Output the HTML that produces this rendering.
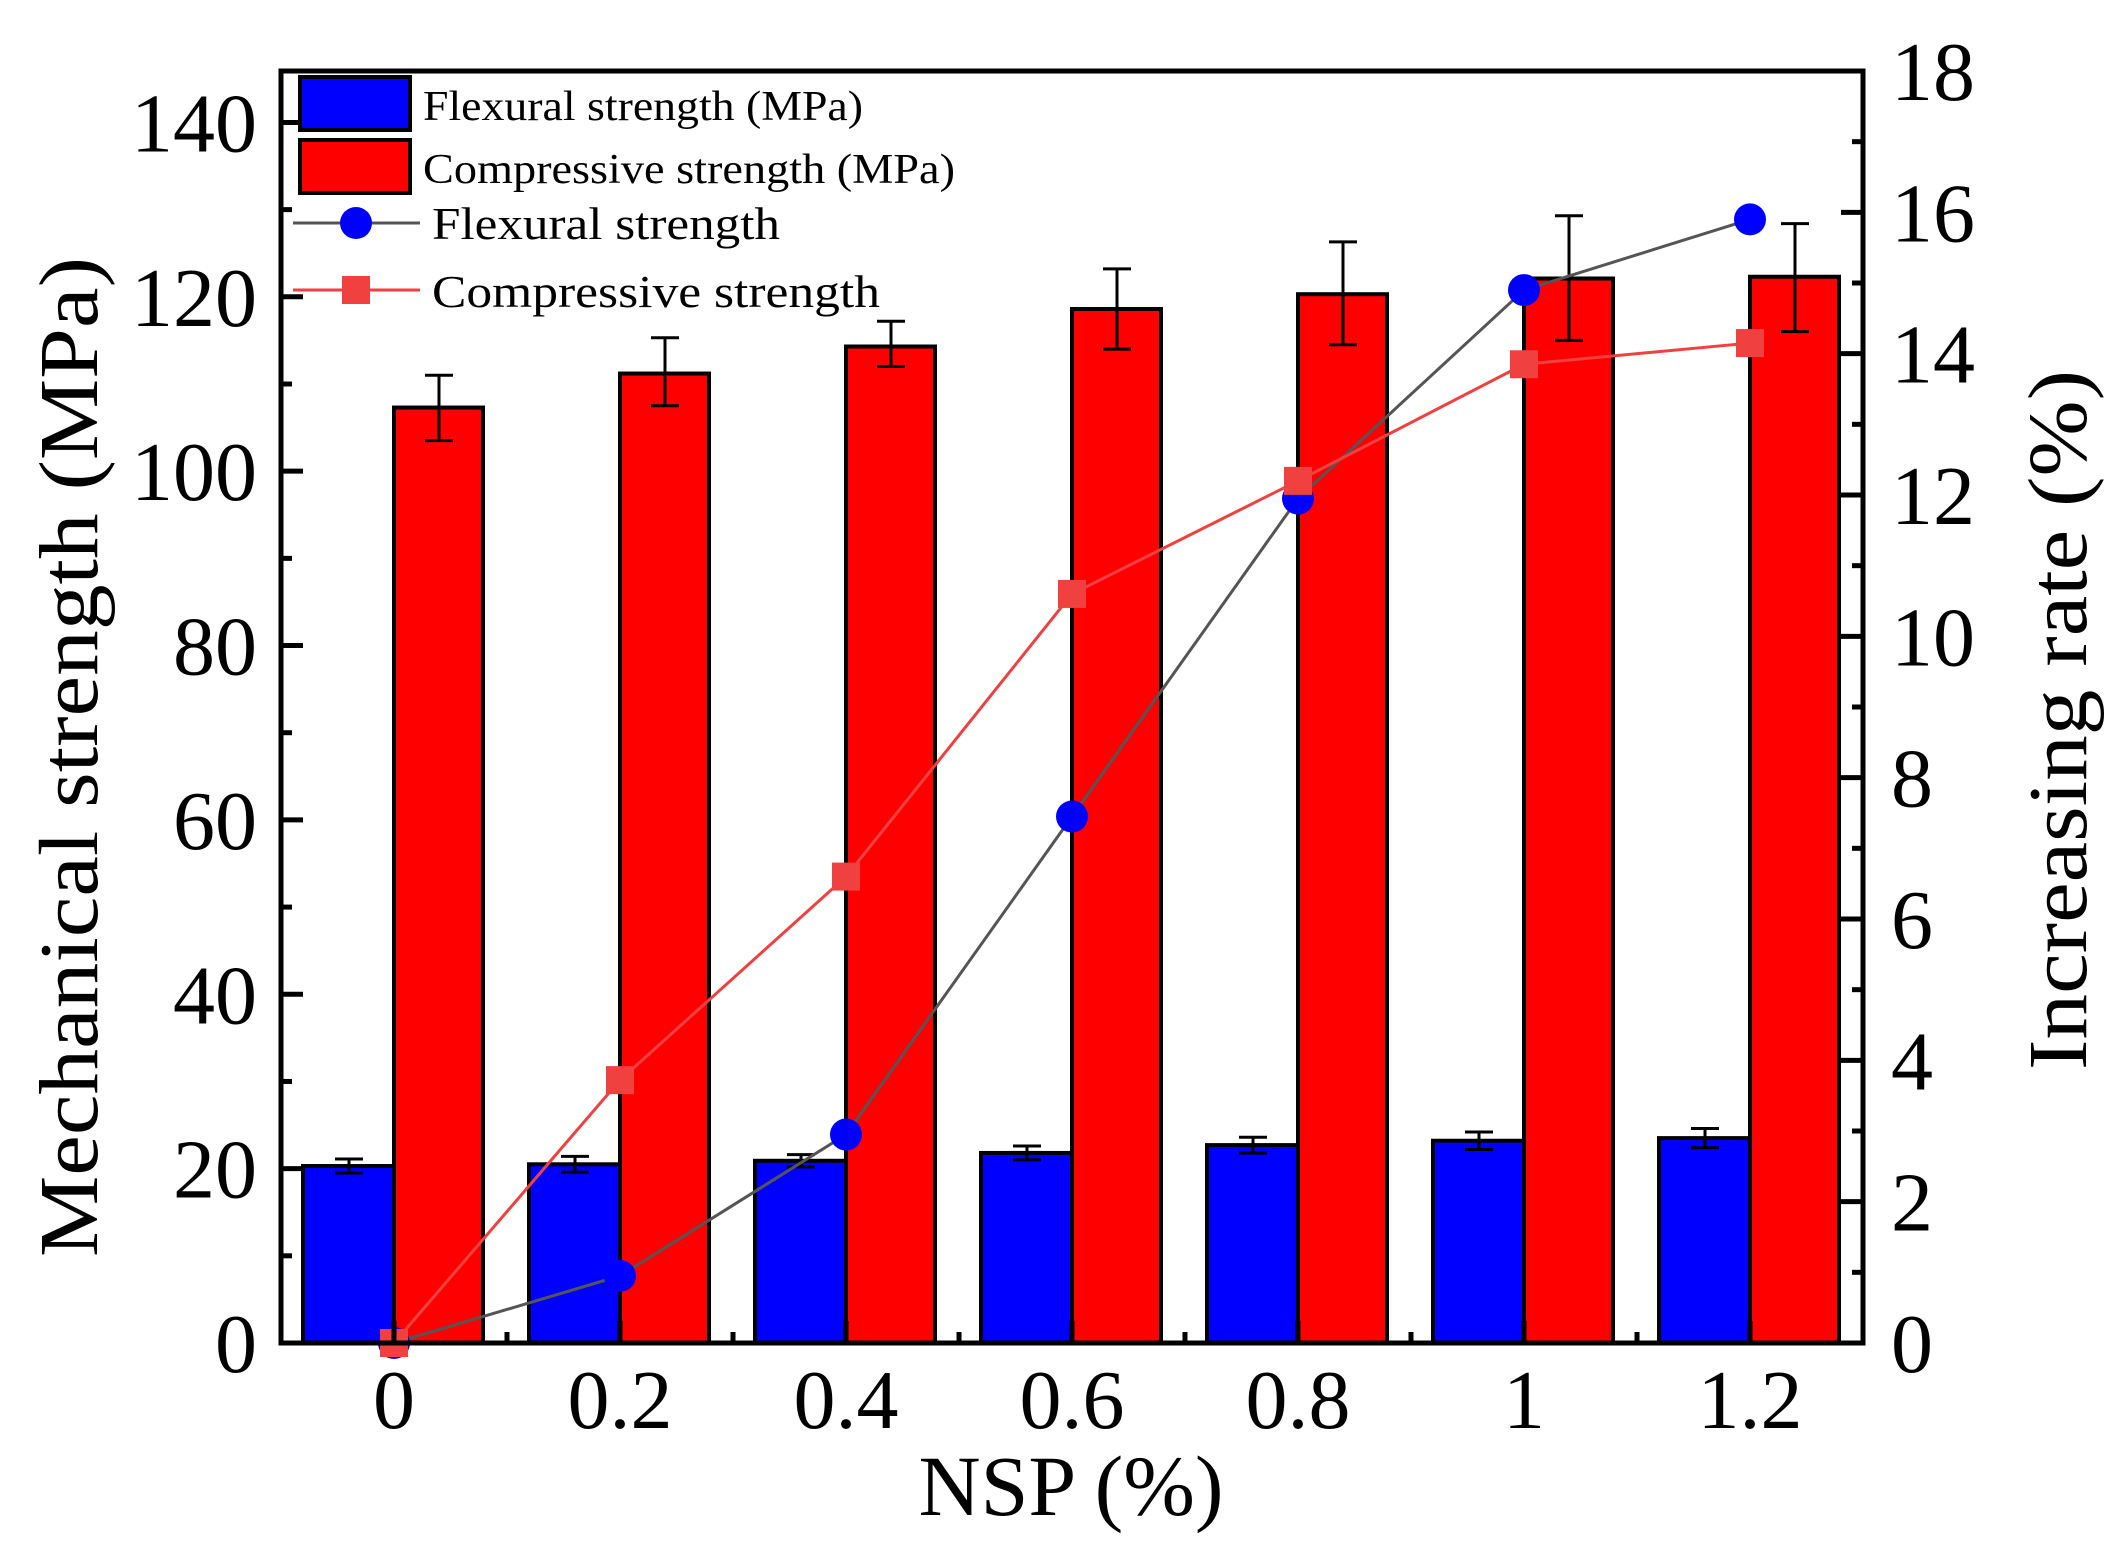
<!DOCTYPE html>
<html><head><meta charset="utf-8"><style>html,body{margin:0;padding:0;background:#fff}svg{display:block}</style></head>
<body>
<svg id="chart" width="2121" height="1568" viewBox="0 0 2121 1568" xmlns="http://www.w3.org/2000/svg" font-family="'Liberation Serif', serif"></svg>
<script>
const categories = ["0","0.2","0.4","0.6","0.8","1","1.2"];
const flexural = [20.3,20.5,20.9,21.8,22.7,23.2,23.5];
const flexuralErr = [0.8,0.9,0.7,0.8,0.9,1.0,1.1];
const compressive = [107.3,111.2,114.3,118.6,120.3,122.1,122.3];
const compressiveLo = [103.5,107.5,112.0,114.0,114.5,115.0,116.0];
const compressiveHi = [111.0,115.3,117.2,123.2,126.3,129.3,128.4];
const flexRate = [0,0.95,2.95,7.45,11.95,14.9,15.9];
const compRate = [0,3.72,6.6,10.6,12.2,13.85,14.15];
const leftTicks = [0,20,40,60,80,100,120,140];
const rightTicks = [0,2,4,6,8,10,12,14,16,18];

const NS="http://www.w3.org/2000/svg";
const svg=document.getElementById('chart');
const L=281,R=1863,T=71,B=1343;
const yL=v=>B-(v/145.9)*(B-T);
const yR=v=>B-(v/18)*(B-T);
const xC=i=>394+i*226;
function mk(tag,attrs,parent){const e=document.createElementNS(NS,tag);for(const k in attrs)e.setAttribute(k,attrs[k]);(parent||svg).appendChild(e);return e;}

// bars
categories.forEach((c,i)=>{
  const x=xC(i);
  let b=mk('rect',{x:x-91,y:yL(flexural[i]),width:91,height:B-yL(flexural[i]),fill:'#0000ff',stroke:'#000','stroke-width':4});
  
  
  let r=mk('rect',{x:x,y:yL(compressive[i]),width:89,height:B-yL(compressive[i]),fill:'#ff0000',stroke:'#000','stroke-width':4});
  
  
  const fx=x-45;
  let e1=mk('path',{d:`M${fx-14},${yL(flexural[i]+flexuralErr[i])}h28M${fx},${yL(flexural[i]+flexuralErr[i])}V${yL(flexural[i]-flexuralErr[i])}M${fx-14},${yL(flexural[i]-flexuralErr[i])}h28`,stroke:'#000','stroke-width':3,fill:'none'});
  
  
  const cx=x+45;
  let e2=mk('path',{d:`M${cx-14},${yL(compressiveHi[i])}h28M${cx},${yL(compressiveHi[i])}V${yL(compressiveLo[i])}M${cx-14},${yL(compressiveLo[i])}h28`,stroke:'#000','stroke-width':3,fill:'none'});
  
  
});

// lines
let lf=mk('polyline',{points:flexRate.map((v,i)=>xC(i)+','+yR(v)).join(' '),fill:'none',stroke:'#555','stroke-width':3});


flexRate.forEach((v,i)=>{
  let c=mk('circle',{cx:xC(i),cy:yR(v),r:16,fill:'#0000ff'});
  
  
});
let lc=mk('polyline',{points:compRate.map((v,i)=>xC(i)+','+yR(v)).join(' '),fill:'none',stroke:'#f04040','stroke-width':3});


compRate.forEach((v,i)=>{
  let s=mk('rect',{x:xC(i)-14,y:yR(v)-14,width:28,height:28,fill:'#f04040'});
  
  
});

// frame
let fr=mk('rect',{x:L,y:T,width:R-L,height:B-T,fill:'none',stroke:'#000','stroke-width':5});



// left ticks
leftTicks.forEach(v=>{
  mk('line',{x1:L,x2:L+22,y1:yL(v),y2:yL(v),stroke:'#000','stroke-width':5});
  if(v<140) mk('line',{x1:L,x2:L+11,y1:yL(v+10),y2:yL(v+10),stroke:'#000','stroke-width':5});
  let t=mk('text',{x:L-24,y:yL(v)+29,'text-anchor':'end','font-size':84});
  t.textContent=v;
  
  
});
rightTicks.forEach(v=>{
  mk('line',{x1:R,x2:R-22,y1:yR(v),y2:yR(v),stroke:'#000','stroke-width':5});
  if(v<18) mk('line',{x1:R,x2:R-11,y1:yR(v+1),y2:yR(v+1),stroke:'#000','stroke-width':5});
  let t=mk('text',{x:R+28,y:yR(v)+29,'font-size':84});
  t.textContent=v;
  
  
});
categories.forEach((c,i)=>{
  mk('line',{x1:xC(i),x2:xC(i),y1:B,y2:B-22,stroke:'#000','stroke-width':5});
  if(i<categories.length-1) mk('line',{x1:xC(i)+113,x2:xC(i)+113,y1:B,y2:B-11,stroke:'#000','stroke-width':5});
  let t=mk('text',{x:xC(i),y:1428,'text-anchor':'middle','font-size':84});
  t.textContent=c;
  
  
});

// titles
let xt=mk('text',{x:1071,y:1515,'text-anchor':'middle','font-size':86});
xt.textContent='NSP (%)';


let yt=mk('text',{x:0,y:0,'text-anchor':'middle','font-size':84,transform:'translate(97,757) rotate(-90)',textLength:1000,lengthAdjust:'spacingAndGlyphs'});
yt.textContent='Mechanical strength (MPa)';


let yt2=mk('text',{x:0,y:0,'text-anchor':'middle','font-size':84,transform:'translate(2086,720) rotate(-90)',textLength:700,lengthAdjust:'spacingAndGlyphs'});
yt2.textContent='Increasing rate (%)';



// legend
const lg=mk('g',{});


mk('rect',{x:300,y:77,width:110,height:53,fill:'#0000ff',stroke:'#000','stroke-width':4},lg);
mk('rect',{x:300,y:140,width:110,height:53,fill:'#ff0000',stroke:'#000','stroke-width':4},lg);
let t1=mk('text',{x:423,y:120,'font-size':42,textLength:440,lengthAdjust:'spacingAndGlyphs'},lg);t1.textContent='Flexural strength (MPa)';


let t2=mk('text',{x:423,y:183,'font-size':42,textLength:532,lengthAdjust:'spacingAndGlyphs'},lg);t2.textContent='Compressive strength (MPa)';


mk('line',{x1:293,x2:420,y1:223,y2:223,stroke:'#555','stroke-width':3},lg);
mk('circle',{cx:356,cy:223,r:16,fill:'#0000ff'},lg);
mk('line',{x1:293,x2:420,y1:290,y2:290,stroke:'#f04040','stroke-width':3},lg);
mk('rect',{x:342,y:276,width:28,height:28,fill:'#f04040'},lg);
let t3=mk('text',{x:432,y:239,'font-size':46,textLength:348,lengthAdjust:'spacingAndGlyphs'},lg);t3.textContent='Flexural strength';


let t4=mk('text',{x:432,y:307,'font-size':46,textLength:448,lengthAdjust:'spacingAndGlyphs'},lg);t4.textContent='Compressive strength';


</script>
</body></html>
